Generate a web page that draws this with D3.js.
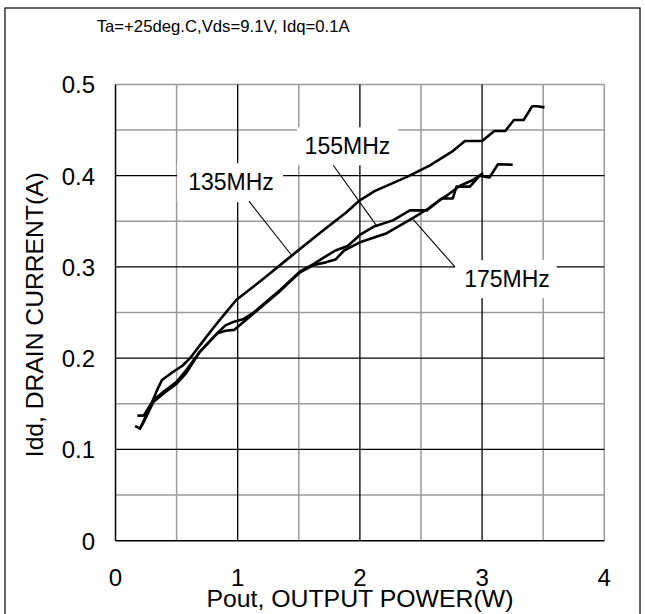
<!DOCTYPE html>
<html><head><meta charset="utf-8">
<script src="https://cdn.jsdelivr.net/npm/d3@7"></script>
<style>body{margin:0;background:#fff}svg{display:block}text{font-family:"Liberation Sans",Arial,sans-serif;fill:#000}</style>
</head><body>
<script>
// ---- data ----
const xTicks = [0, 1, 2, 3, 4];
const yTicks = [0, 0.1, 0.2, 0.3, 0.4, 0.5];
const xMinor = [0.5, 1.5, 2.5, 3.5];
const yMinor = [0.05, 0.15, 0.25, 0.35, 0.45];
const seriesNames = ["135MHz", "155MHz", "175MHz"];
const p135 = [0.2,0.22,0.26,0.30,0.34,0.38,0.45,0.55,0.61,0.69,0.80,0.86,0.99,1.21,1.43,1.67,1.89,1.99,2.12,2.39,2.57,2.75,2.86,3.0,3.10,3.19,3.26,3.34,3.41,3.45,3.50];
const i135 = [0.123,0.128,0.140,0.152,0.165,0.176,0.183,0.192,0.200,0.214,0.233,0.243,0.264,0.287,0.311,0.337,0.360,0.372,0.383,0.399,0.411,0.426,0.438,0.438,0.449,0.449,0.461,0.461,0.476,0.476,0.475];
const p155 = [0.19,0.23,0.31,0.39,0.50,0.58,0.69,0.83,0.90,0.97,1.05,1.13,1.35,1.51,1.62,1.70,1.80,1.90,2.0,2.11,2.27,2.41,2.55,2.67,2.76,2.79,2.90,2.98,3.06,3.13,3.24];
const i155 = [0.137,0.137,0.154,0.163,0.174,0.187,0.207,0.227,0.236,0.240,0.243,0.250,0.275,0.295,0.303,0.310,0.318,0.323,0.335,0.344,0.351,0.362,0.362,0.375,0.375,0.388,0.388,0.400,0.398,0.4125,0.412];
const p175 = [0.17,0.20,0.23,0.31,0.39,0.50,0.58,0.69,0.83,0.90,0.97,1.05,1.13,1.35,1.51,1.62,1.72,1.80,1.87,2.0,2.22,2.44,2.56,2.64,2.72,2.82,2.92,3.0];
const i175 = [0.125,0.123,0.130,0.152,0.161,0.172,0.184,0.207,0.227,0.230,0.231,0.240,0.249,0.274,0.294,0.302,0.305,0.308,0.318,0.327,0.337,0.354,0.364,0.372,0.379,0.389,0.395,0.402];
// annotation anchors in data units: [label x, label baseline y, leader x1,y1,x2,y2, box x0,x1,y0,y1]
const labelPos = [
  [0.945,0.384, 1.092,0.372, 1.436,0.3136, 0.503,1.371,0.3709,0.4137],
  [1.898,0.4242, 1.782,0.4114, 2.136,0.3452, 1.485,2.312,0.4114,0.4530],
  [3.204,0.2781, 2.437,0.3517, 2.778,0.300, 2.778,3.610,0.2658,0.3074]
];
const titleText = "Ta=+25deg.C,Vds=9.1V, Idq=0.1A";
const xTitle = "Pout, OUTPUT POWER(W)";
const yTitle = "Idd, DRAIN CURRENT(A)";

// ---- drawing ----
const W = 645, H = 614;
const svg = d3.select("body").append("svg").attr("width", W).attr("height", H);
const x = d3.scaleLinear().domain([0, 4]).range([115.5, 604.3]);
const y = d3.scaleLinear().domain([0, 0.5]).range([540.7, 84.4]);

// outer frame
svg.append("rect").attr("x", 5).attr("y", 8).attr("width", 635).attr("height", 620)
  .attr("fill", "none").attr("stroke", "#000").attr("stroke-width", 1.2);

svg.append("text").attr("x", 96.7).attr("y", 31.7).attr("font-size", 16.5)
  .attr("textLength", 253).attr("lengthAdjust", "spacingAndGlyphs").text(titleText);

const g = svg.append("g");
// minor grid
g.selectAll(".vmin").data(xMinor.concat([4])).enter().append("line")
  .attr("x1", d => x(d)).attr("x2", d => x(d)).attr("y1", y(0)).attr("y2", y(0.5))
  .attr("stroke", "#9a9a9a").attr("stroke-width", 1.5);
g.selectAll(".hmin").data(yMinor.concat([0.5])).enter().append("line")
  .attr("y1", d => y(d)).attr("y2", d => y(d)).attr("x1", x(0)).attr("x2", x(4))
  .attr("stroke", "#9a9a9a").attr("stroke-width", 1.5);
// major grid
g.selectAll(".vmaj").data([1, 2, 3]).enter().append("line")
  .attr("x1", d => x(d)).attr("x2", d => x(d)).attr("y1", y(0)).attr("y2", y(0.5))
  .attr("stroke", "#000").attr("stroke-width", 1.3);
g.selectAll(".hmaj").data([0.1, 0.2, 0.3, 0.4]).enter().append("line")
  .attr("y1", d => y(d)).attr("y2", d => y(d)).attr("x1", x(0)).attr("x2", x(4))
  .attr("stroke", "#000").attr("stroke-width", 1.3);
// axes
g.append("line").attr("x1", x(0)).attr("x2", x(0)).attr("y1", y(0)).attr("y2", y(0.5)).attr("stroke", "#000").attr("stroke-width", 1.5);
g.append("line").attr("x1", x(0)).attr("x2", x(4)).attr("y1", y(0)).attr("y2", y(0)).attr("stroke", "#000").attr("stroke-width", 1.5);

// label boxes (white)
g.selectAll(".box").data(labelPos).enter().append("rect")
  .attr("x", d => x(d[6])).attr("width", d => x(d[7]) - x(d[6]))
  .attr("y", d => y(d[9])).attr("height", d => y(d[8]) - y(d[9]))
  .attr("fill", "#fff");

// leaders
g.selectAll(".lead").data(labelPos).enter().append("line")
  .attr("x1", d => x(d[2])).attr("y1", d => y(d[3])).attr("x2", d => x(d[4])).attr("y2", d => y(d[5]))
  .attr("stroke", "#000").attr("stroke-width", 1.1);

// curves
const series = [[p135, i135], [p155, i155], [p175, i175]];
const line = d3.line().x(d => x(d[0])).y(d => y(d[1]));
g.selectAll(".curve").data(series).enter().append("path")
  .attr("d", s => line(s[0].map((p, k) => [p, s[1][k]])))
  .attr("fill", "none").attr("stroke", "#000").attr("stroke-width", 2.6)
  .attr("stroke-linejoin", "round").attr("stroke-linecap", "square");

// labels
g.selectAll(".lbl").data(labelPos).enter().append("text")
  .attr("x", d => x(d[0])).attr("y", d => y(d[1])).attr("text-anchor", "middle")
  .attr("font-size", 23).text((d, k) => seriesNames[k]);

// tick labels
svg.selectAll(".yt").data(yTicks).enter().append("text")
  .attr("x", 95).attr("y", d => y(d) + 9).attr("text-anchor", "end").attr("font-size", 24)
  .text(d => d === 0 ? "0" : d3.format(".1f")(d));
svg.selectAll(".xt").data(xTicks).enter().append("text")
  .attr("x", d => x(d)).attr("y", 586).attr("text-anchor", "middle").attr("font-size", 24)
  .text(d => d);

svg.append("text").attr("x", x(2)).attr("y", 607).attr("text-anchor", "middle").attr("font-size", 24)
  .attr("textLength", 307).attr("lengthAdjust", "spacingAndGlyphs").text(xTitle);
svg.append("text").attr("transform", "translate(43,314.7) rotate(-90)").attr("text-anchor", "middle")
  .attr("font-size", 24).attr("textLength", 285).attr("lengthAdjust", "spacingAndGlyphs").text(yTitle);
</script>
</body></html>
